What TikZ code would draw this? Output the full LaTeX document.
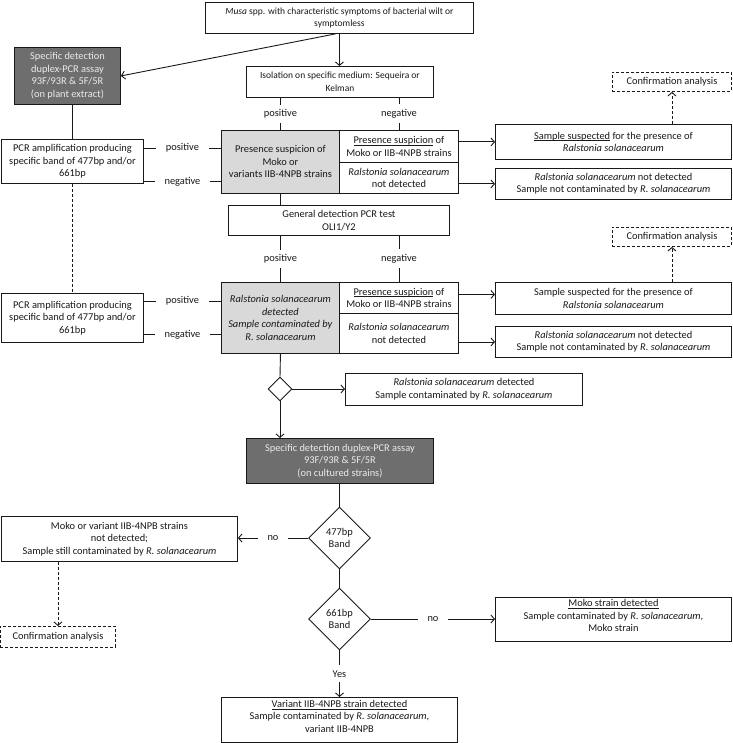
\documentclass[tikz,border=0pt]{standalone}
\usepackage{fontspec}
\setmainfont{Carlito}
\usetikzlibrary{shapes.geometric, arrows.meta, calc}

\definecolor{boxdark}{HTML}{6E6E6E}
\definecolor{boxlight}{HTML}{D9D9D9}
\definecolor{textlight}{HTML}{EBEBEB}

% underline that keeps close to the baseline
\newcommand\undl[1]{\underline{\smash{#1}}}

\tikzset{
    box/.style={draw, fill=white, rectangle, anchor=north west, align=center,
        inner sep=1pt, font=\fontsize{10.4}{12.5}\selectfont},
    smallbox/.style={box, font=\fontsize{9.5}{12.5}\selectfont},
    darkbox/.style={box, fill=boxdark, text=textlight},
    greybox/.style={box, fill=boxlight},
    confbox/.style={box, dash pattern=on 3pt off 2pt},
    decision/.style={draw, fill=white, diamond, aspect=1, inner sep=0pt, align=center,
        font=\fontsize{10.4}{12.5}\selectfont},
    lbl/.style={fill=white, inner xsep=10pt, inner ysep=5pt, font=\fontsize{10.4}{12.5}\selectfont},
    arr/.style={-{Straight Barb[length=3.5pt,width=8pt]}},
    dashline/.style={dash pattern=on 3pt off 2pt}
}

\begin{document}
\begin{tikzpicture}[x=1pt, y=-1pt, line width=0.9pt, color=black!90]
        % Define page size
        \def\pagewidth{732}
        \def\pageheight{743}
        \useasboundingbox (0,0) rectangle (\pagewidth,\pageheight);

        % Sample and first tests
        \node[smallbox, minimum width=268, minimum height=31] (musa) at (205,2)
            {\textit{Musa} spp. with characteristic symptoms of bacterial wilt or\\symptomless};
        \node[darkbox, minimum width=106, minimum height=57] (plantpcr) at (14,47)
            {Specific detection\\duplex-PCR assay\\93F/93R \& 5F/5R\\(on plant extract)};
        \node[smallbox, minimum width=187, minimum height=31] (isol) at (246,66)
            {Isolation on specific medium: Sequeira or\\Kelman};

        % First result row
        \node[box, minimum width=142, minimum height=44] (ampA) at (1,139)
            {PCR amplification producing\\specific band of 477bp and/or\\661bp};
        \node[greybox, minimum width=118, minimum height=63] (suspA) at (221,130)
            {Presence suspicion of\\Moko or\\variants IIB-4NPB strains};
        \node[box, minimum width=119, minimum height=32] (cellAa) at (339,130)
            {\undl{Presence suspicion} of\\Moko or IIB-4NPB strains};
        \node[box, minimum width=119, minimum height=31] (cellBa) at (339,162)
            {\textit{Ralstonia solanacearum}\\not detected};
        \node[confbox, minimum width=119, minimum height=19] (confA) at (612,72)
            {Confirmation analysis};
        \node[box, minimum width=236, minimum height=35] (sampA) at (495,124)
            {\undl{Sample suspected} for the presence of\\\textit{Ralstonia solanacearum}};
        \node[box, minimum width=236, minimum height=31] (notdetA) at (495,168)
            {\textit{Ralstonia solanacearum} not detected\\Sample not contaminated by \textit{R. solanacearum}};

        \node[box, minimum width=221, minimum height=30] (general) at (228,205)
            {General detection PCR test\\OLI1/Y2};

        % Second result row
        \node[box, minimum width=142, minimum height=49] (ampB) at (1,293)
            {PCR amplification producing\\specific band of 477bp and/or\\661bp};
        \node[greybox, minimum width=118, minimum height=71] (rsdet) at (221,282)
            {\textit{Ralstonia solanacearum}\\\textit{detected}\\\textit{Sample contaminated by}\\\textit{R. solanacearum}};
        \node[box, minimum width=119, minimum height=31] (cellAb) at (339,282)
            {\undl{Presence suspicion} of\\Moko or IIB-4NPB strains};
        \node[box, minimum width=119, minimum height=40] (cellBb) at (339,313)
            {\textit{Ralstonia solanacearum}\\not detected};
        \node[confbox, minimum width=119, minimum height=19] (confB) at (612,227)
            {Confirmation analysis};
        \node[box, minimum width=236, minimum height=32] (sampB) at (495,282)
            {Sample suspected for the presence of\\\textit{Ralstonia solanacearum}};
        \node[box, minimum width=236, minimum height=31] (notdetB) at (495,326)
            {\textit{Ralstonia solanacearum} not detected\\Sample not contaminated by \textit{R. solanacearum}};

        % Cultured strains
        \node[decision, minimum size=24] (dsmall) at (280,389) {};
        \node[box, minimum width=237, minimum height=32] (rsdetC) at (345,373)
            {\textit{Ralstonia solanacearum} detected\\Sample contaminated by \textit{R. solanacearum}};
        \node[darkbox, minimum width=187, minimum height=45] (cultpcr) at (246,438)
            {Specific detection duplex-PCR assay\\93F/93R \& 5F/5R\\(on cultured strains)};
        \node[decision, minimum size=62] (band477) at (339.5,538) {477bp\\Band};
        \node[box, minimum width=236, minimum height=45] (notdetC) at (1,516)
            {Moko or variant IIB-4NPB strains\\not detected;\\Sample still contaminated by \textit{R. solanacearum}};
        \node[confbox, minimum width=115, minimum height=21] (confC) at (0,626)
            {Confirmation analysis};
        \node[decision, minimum size=62] (band661) at (339.5,619) {661bp\\Band};
        \node[box, minimum width=236, minimum height=44] (moko) at (495,597)
            {\undl{Moko strain detected}\\Sample contaminated by \textit{R. solanacearum},\\Moko strain};
        \node[box, minimum width=236, minimum height=45] (variant) at (221,697)
            {\undl{Variant IIB-4NPB strain detected}\\Sample contaminated by \textit{R. solanacearum},\\variant IIB-4NPB};

        % Connectors
        \draw[arr] (musa) -- (musa.south |- isol.north);
        \draw[arr] ([xshift=-4pt]musa.south) -- (plantpcr.east);
        \draw (plantpcr.south -| ampA.north) -- (ampA.north);
        \draw[dashline] (ampA.south) -- (ampB.north);

        \draw (isol.south -| suspA.north) -- node[lbl]{positive} (suspA.north);
        \draw (isol.south -| cellAa.north) -- node[lbl]{negative} (cellAa.north);
        \draw ([yshift=-9pt]ampA.north east) -- node[lbl]{positive} ([yshift=-9pt]ampA.north east -| suspA.west);
        \draw ([yshift=2pt]ampA.south east) -- node[lbl]{negative} ([yshift=2pt]ampA.south east -| suspA.west);
        \draw[arr] (sampA.west -| cellAa.east) -- (sampA.west);
        \draw[arr] (notdetA.west -| cellBa.east) -- (notdetA.west);
        \draw[arr, dashline] (sampA.north -| confA.south) -- (confA.south);

        \draw (suspA.south) -- (suspA.south |- general.north);
        \draw (general.south -| rsdet.north) -- node[lbl]{positive} (rsdet.north);
        \draw (general.south -| cellAb.north) -- node[lbl]{negative} (cellAb.north);
        \draw ([yshift=-8pt]ampB.north east) -- node[lbl]{positive} ([yshift=-8pt]ampB.north east -| rsdet.west);
        \draw ([yshift=8pt]ampB.south east) -- node[lbl]{negative} ([yshift=8pt]ampB.south east -| rsdet.west);
        \draw[arr] ([yshift=4pt]sampB.west -| cellAb.east) -- ([yshift=4pt]sampB.west);
        \draw[arr] (notdetB.west -| cellBb.east) -- (notdetB.west);
        \draw[arr, dashline] (sampB.north -| confB.south) -- (confB.south);

        \draw (rsdet.south) -- (dsmall.north);
        \draw[arr] (dsmall.east) -- (dsmall.east -| rsdetC.west);
        \draw[arr] (dsmall.south) -- (dsmall.south |- cultpcr.north);
        \draw (cultpcr.south -| band477.north) -- (band477.north);
        \draw[arr] (band477.west) -- node[lbl]{no} (band477.west -| notdetC.east);
        \draw[arr, dashline] (notdetC.south -| confC.north) -- (confC.north);
        \draw (band477.south) -- (band661.north);
        \draw[arr] (band661.east) -- node[lbl]{no} (band661.east -| moko.west);
        \draw[arr] (band661.south) -- node[lbl]{Yes} (band661.south |- variant.north);
    \end{tikzpicture}
\end{document}
